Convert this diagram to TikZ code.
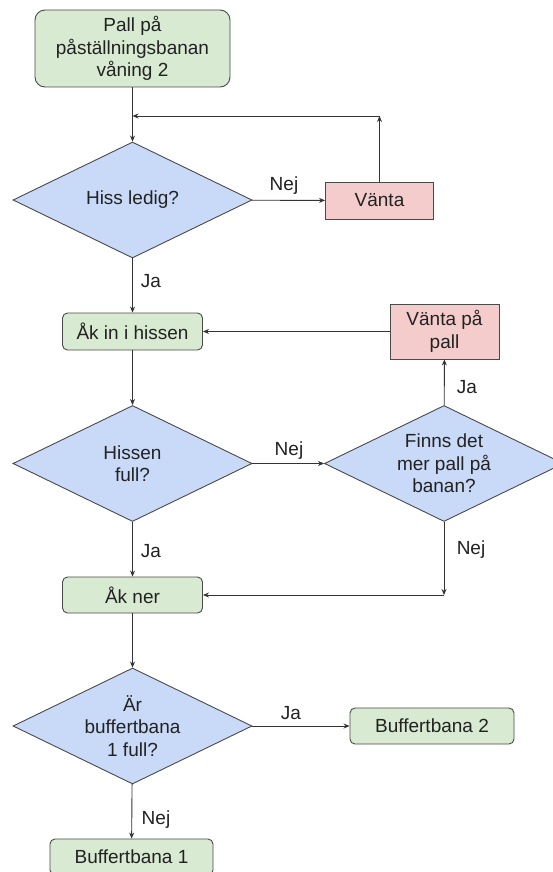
\documentclass[tikz,border=0pt]{standalone}
\usepackage{fontspec}
\setmainfont{Liberation Sans}
\usetikzlibrary{shapes.geometric,arrows.meta}
\definecolor{gfill}{HTML}{D9EAD3}
\definecolor{bfill}{HTML}{C9DAF8}
\definecolor{pfill}{HTML}{F4CCCC}
\definecolor{edge}{HTML}{4A4A4A}
\definecolor{ink}{HTML}{222222}
\definecolor{wire}{HTML}{333333}
\begin{document}
\begin{tikzpicture}[x=1pt,y=-1pt,
  every node/.style={font=\fontsize{19}{22.5}\selectfont, text=ink},
  gbox/.style={draw=edge, fill=gfill, rounded corners=5pt, inner sep=0pt, line width=0.9pt, align=center},
  pbox/.style={draw=edge, fill=pfill, inner sep=0pt, line width=0.9pt, align=center},
  dbox/.style={draw=edge, fill=bfill, shape=diamond, aspect=2.07, inner sep=0pt,
    minimum width=239pt, minimum height=116pt, line width=0.9pt, align=center},
  arr/.style={draw=wire, line width=0.9pt, -{Stealth[length=6pt,width=5pt]}},
  lbl/.style={inner sep=0pt}
]
\useasboundingbox (0,0) rectangle (552,872);
\fill[white] (0,0) rectangle (552,872);

\node[gbox, rounded corners=10pt, minimum width=195pt, minimum height=77pt] (start) at (132.5,48.5)
  {Pall på\\påställningsbanan\\våning 2};
\node[dbox] (d1) at (132.5,200) {Hiss ledig?};
\node[pbox, minimum width=108pt, minimum height=37pt] (wait) at (379.5,200.5) {Vänta};
\node[gbox, minimum width=140pt, minimum height=37pt] (ride) at (132.5,331.5) {Åk in i hissen};
\node[pbox, minimum width=109pt, minimum height=55pt] (waitp) at (444.5,331.5) {Vänta på\\pall};
\node[dbox] (d2) at (132.5,463.5) {Hissen\\full?};
\node[dbox] (d3) at (444,463.5) {Finns det\\mer pall på\\banan?};
\node[gbox, minimum width=140pt, minimum height=36pt] (down) at (132.5,595) {Åk ner};
\node[dbox] (d4) at (132.5,726) {Är\\buffertbana\\1 full?};
\node[gbox, minimum width=164pt, minimum height=36pt] (b2) at (432,726) {Buffertbana 2};
\node[gbox, minimum width=163pt, minimum height=36pt] (b1) at (131.5,857) {Buffertbana 1};

\coordinate (c1) at (379.5,116);
\coordinate (c2) at (132.5,116);
\coordinate (c3) at (444,595);

\draw[arr] (start) -- (d1);
\draw[arr] (d1) -- (wait);
\draw[arr] (wait) -- (c1);
\draw[arr] (c1) -- (c2);
\draw[arr] (d1) -- (ride);
\draw[arr] (waitp) -- (ride);
\draw[arr] (ride) -- (d2);
\draw[arr] (d2) -- (d3);
\draw[arr] (d3) -- (waitp);
\draw[arr] (d3.south) -- (c3);
\draw[arr] (c3) -- (down);
\draw[arr] (d2) -- (down);
\draw[arr] (down) -- (d4);
\draw[arr] (d4) -- (b2);
\draw[arr] (d4) -- (b1);

\node[lbl] (l1) at (284,186) {Nej};
\node[lbl] (l2) at (151,281) {Ja};
\node[lbl] (l3) at (467,387) {Ja};
\node[lbl] (l4) at (289,451) {Nej};
\node[lbl] (l5) at (151,551) {Ja};
\node[lbl] (l6) at (471,550) {Nej};
\node[lbl] (l7) at (291,713) {Ja};
\node[lbl] (l8) at (156,820) {Nej};
\end{tikzpicture}
\end{document}
